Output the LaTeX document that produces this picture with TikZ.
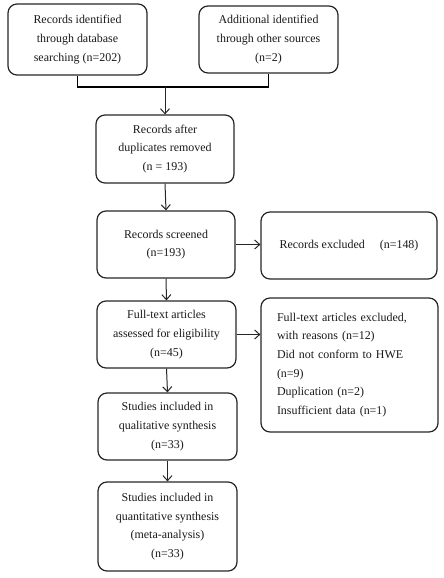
\documentclass[tikz,border=0pt]{standalone}
\usepackage{fontspec}
\setmainfont{Liberation Serif}
\usetikzlibrary{arrows.meta}
\begin{document}
\begin{tikzpicture}[x=1bp,y=-1bp,
  box/.style={draw=black!85,line width=1.2bp,rounded corners=9bp,align=center,
    font=\fontsize{12}{18.7}\selectfont,text=black!90,inner sep=0bp},
  arr/.style={draw=black!85,line width=1bp,-{Straight Barb[length=5bp,width=9bp]}},
  brk/.style={draw=black,line width=1.8bp}]
\useasboundingbox (0,0) rectangle (444,578);
\node[box,minimum width=139bp,minimum height=71bp] (b1) at (77.5,39.5) {Records identified\\through database\\searching (n=202)};
\node[box,minimum width=139bp,minimum height=67bp] (b2) at (268.5,39.5) {Additional identified\\through other sources\\(n=2)};
\node[box,minimum width=138bp,minimum height=68bp] (b3) at (165,149) {Records after\\duplicates removed\\(n = 193)};
\node[box,minimum width=138bp,minimum height=67bp] (b4) at (166,244.5) {Records screened\\(n=193)};
\node[box,minimum width=176bp,minimum height=67bp] (ex1) at (349,245.5) {Records excluded\quad\ (n=148)};
\node[box,minimum width=139bp,minimum height=67bp] (b5) at (166.5,334.5) {Full-text articles\\assessed for eligibility\\(n=45)};
\node[box,minimum width=177bp,minimum height=134bp,align=left,text width=145bp] (ex2) at (349.5,365) {Full-text articles excluded,\\with reasons (n=12)\\Did not conform to HWE\\(n=9)\\Duplication (n=2)\\Insufficient data (n=1)};
\node[box,minimum width=139bp,minimum height=67bp] (b6) at (167.5,426.5) {Studies included in\\qualitative synthesis\\(n=33)};
\node[box,minimum width=139bp,minimum height=89bp] (b7) at (167.5,526.5) {Studies included in\\quantitative synthesis\\(meta-analysis)\\(n=33)};
\coordinate (jl) at (77.5,87);
\coordinate (jr) at (268.5,87);
\coordinate (jm) at (165,87);
\draw[brk] (b1.south) -- (jl) -- (jr) -- (b2.south);
\draw[arr] (jm) -- (b3.north);
\draw[arr] (b3.south) -- (b4.north);
\draw[arr] (b4.east) -- (b4.east -| ex1.west);
\draw[arr] (b4.south) -- (b5.north);
\draw[arr] (b5.east) -- (b5.east -| ex2.west);
\draw[arr] (b5.south) -- (b6.north);
\draw[arr] (b6.south) -- (b7.north);
\end{tikzpicture}
\end{document}
